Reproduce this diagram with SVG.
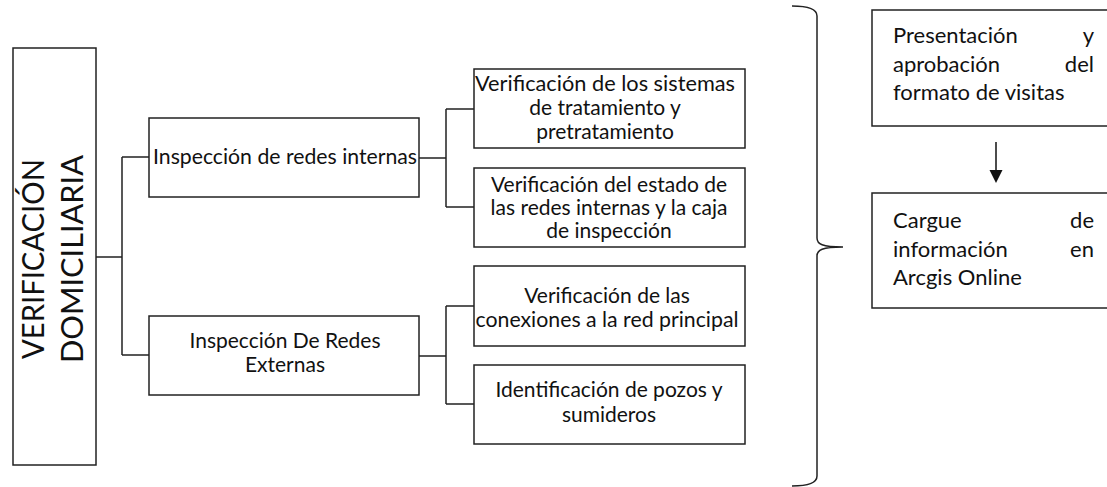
<svg xmlns="http://www.w3.org/2000/svg" width="1107" height="487" viewBox="0 0 1107 487">
<style>
.box{fill:#fff;stroke:#222;stroke-width:1.5}
.ln{fill:none;stroke:#222;stroke-width:1.5}
.t{font-family:Lato,"Liberation Sans",sans-serif;font-size:21px;fill:#111;text-anchor:middle}
.r{font-family:Lato,"Liberation Sans",sans-serif;font-size:22px;fill:#111}
.v{font-family:Lato,"Liberation Sans",sans-serif;font-size:30px;font-weight:400;fill:#111;text-anchor:middle}
</style>
<g id="connectors">
<path class="ln" d="M96,257 H122 M122,157 V355 M122,157 H149 M122,355 H149"/>
<path class="ln" d="M419,158 H446 M446,109 V207 M446,109 H474 M446,207 H474"/>
<path class="ln" d="M419,356 H446 M446,306 V404 M446,306 H474 M446,404 H474"/>
<line x1="996" y1="142" x2="996" y2="172" stroke="#111" stroke-width="1.5"/>
<polygon points="989.5,170 1002.5,170 996,183" fill="#111"/>
<path class="ln" d="M792,6 C806,6 817,8 817,16 L817,238 C817,244 822,247 843,247 C822,247 817,250 817,256 L817,476 C817,484 806,486 792,486"/>
</g>
<g id="n-main">
<rect class="box" x="13" y="48" width="83" height="417"/>
<text class="v" transform="translate(44,259) rotate(-90)" textLength="200" lengthAdjust="spacingAndGlyphs">VERIFICACIÓN</text>
<text class="v" transform="translate(83,259) rotate(-90)" textLength="208" lengthAdjust="spacingAndGlyphs">DOMICILIARIA</text>
</g>
<g id="n-internas">
<rect class="box" x="149" y="118" width="270" height="79"/>
<text class="t" x="285" y="164" textLength="264" lengthAdjust="spacingAndGlyphs">Inspección de redes internas</text>
</g>
<g id="n-externas">
<rect class="box" x="149" y="316" width="270" height="79"/>
<text class="t" x="285" y="348">Inspección De Redes</text>
<text class="t" x="285" y="372">Externas</text>
</g>
<g id="n-sistemas">
<rect class="box" x="474" y="69" width="271" height="79"/>
<text class="t" x="605" y="91" textLength="260" lengthAdjust="spacingAndGlyphs">Verificación de los sistemas</text>
<text class="t" x="605" y="115">de tratamiento y</text>
<text class="t" x="605" y="139">pretratamiento</text>
</g>
<g id="n-estado">
<rect class="box" x="474" y="168" width="271" height="79"/>
<text class="t" x="609" y="192">Verificación del estado de</text>
<text class="t" x="609" y="215">las redes internas y la caja</text>
<text class="t" x="609" y="238">de inspección</text>
</g>
<g id="n-conexiones">
<rect class="box" x="474" y="266" width="271" height="80"/>
<text class="t" x="607" y="303">Verificación de las</text>
<text class="t" x="607" y="327" textLength="263" lengthAdjust="spacingAndGlyphs">conexiones a la red principal</text>
</g>
<g id="n-pozos">
<rect class="box" x="474" y="365" width="271" height="79"/>
<text class="t" x="609" y="397">Identificación de pozos y</text>
<text class="t" x="609" y="422">sumideros</text>
</g>
<g id="n-presentacion">
<rect class="box" x="872" y="10" width="240" height="116"/>
<text class="r" x="893" y="43">Presentación</text>
<text class="r" x="1094" y="43" text-anchor="end">y</text>
<text class="r" x="893" y="72">aprobación</text>
<text class="r" x="1094" y="72" text-anchor="end">del</text>
<text class="r" x="893" y="100">formato de visitas</text>
</g>
<g id="n-cargue">
<rect class="box" x="872" y="193" width="240" height="115"/>
<text class="r" x="893" y="228">Cargue</text>
<text class="r" x="1094" y="228" text-anchor="end">de</text>
<text class="r" x="893" y="257">información</text>
<text class="r" x="1094" y="257" text-anchor="end">en</text>
<text class="r" x="893" y="285">Arcgis Online</text>
</g>
</svg>
